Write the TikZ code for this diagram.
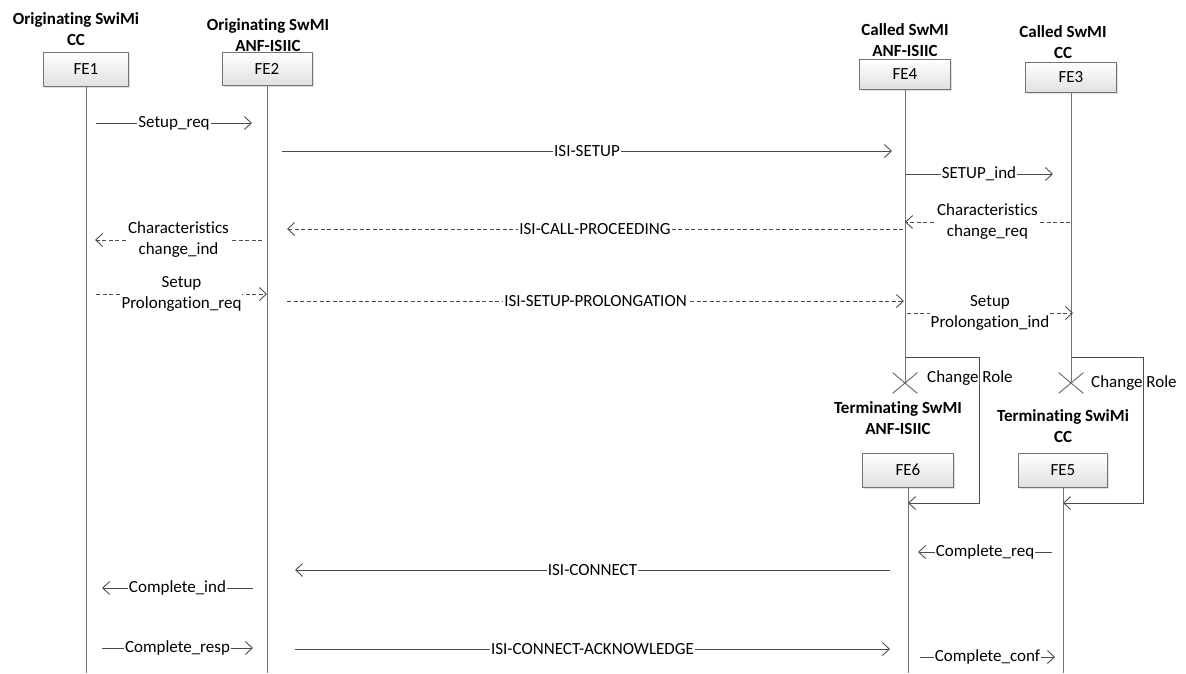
\documentclass[tikz,border=0pt]{standalone}
\usepackage{fontspec}
\setmainfont{Carlito}[Ligatures=NoCommon]
\usetikzlibrary{arrows.meta,shadows,shapes.misc}
\tikzset{
  fe/.style={draw=black!55, top color=white, bottom color=black!12, minimum width=90pt, minimum height=33pt, inner sep=0pt,
    drop shadow={shadow xshift=1.5pt, shadow yshift=-1.5pt, fill=black!20, opacity=0.6}},
  ttl/.style={align=center, font=\fontsize{17}{21}\selectfont\bfseries},
  life/.style={draw=black!55, line width=0.9pt},
  msg/.style={draw=black!70, line width=0.9pt, -{Straight Barb[length=7pt,width=13pt]}},
  dmsg/.style={msg, dash pattern=on 4pt off 2.5pt},
  lbl/.style={fill=white, inner xsep=1pt, inner ysep=0pt, align=center, text=black},
  xmark/.style={draw=black!60, line width=0.9pt, cross out, minimum width=24pt, minimum height=20pt, inner sep=0pt},
  rtext/.style={anchor=west, inner sep=0pt}
}
\newcommand\msgline[6]{%
  \coordinate (#1a) at (#2,#4);
  \coordinate (#1b) at (#3,#4);
  \draw[#5] (#1a) -- node[lbl]{#6} (#1b);}
\begin{document}
\begin{tikzpicture}[x=1pt, y=-1pt, font=\fontsize{17}{21}\selectfont]
\useasboundingbox (0,0) rectangle (1186,673);

% titles
\node[ttl] (t1) at (76,29) {Originating SwiMi\\CC};
\node[ttl] (t2) at (268,35.5) {Originating SwMI\\ANF-ISIIC};
\node[ttl] (t4) at (905,40) {Called SwMI\\ANF-ISIIC};
\node[ttl] (t3) at (1063,42) {Called SwMI\\CC};
\node[ttl] (t6) at (898,418) {Terminating SwMI\\ANF-ISIIC};
\node[ttl] (t5) at (1063,426) {Terminating SwiMi\\CC};

% boxes
\node[fe, minimum width=85pt, minimum height=34pt] (FE1) at (86,69) {FE1};
\node[fe] (FE2) at (267,69) {FE2};
\node[fe, minimum width=91pt, minimum height=30pt] (FE4) at (905,74) {FE4};
\node[fe, minimum width=91pt, minimum height=30pt] (FE3) at (1071,77) {FE3};
\node[fe, minimum width=91pt, minimum height=34pt] (FE6) at (908,470) {FE6};
\node[fe, minimum width=89pt, minimum height=34pt] (FE5) at (1063,470) {FE5};

% end coordinates
\coordinate (e1) at (86,673);
\coordinate (e2) at (267,673);
\coordinate (e6) at (908,673);
\coordinate (e5) at (1063,673);
\node[xmark] (X4) at (905,383) {};
\node[xmark] (X3) at (1071,383) {};

% lifelines
\draw[life] (FE1.south) -- (e1);
\draw[life] (FE2.south) -- (e2);
\draw[life] (FE4.south) -- (X4.center);
\draw[life] (FE3.south) -- (X3.center);
\draw[life] (FE6.south) -- (e6);
\draw[life] (FE5.south) -- (e5);

\node[rtext] (cr4) at (927,378) {Change Role};
\node[rtext] (cr3) at (1091,383) {Change Role};

% change role loops
\coordinate (l4a) at (905,357);
\coordinate (l4b) at (979,357);
\coordinate (l4c) at (979,503);
\coordinate (l4d) at (908,503);
\draw[msg] (l4a) -- (l4b) -- (l4c) -- (l4d);
\coordinate (l3a) at (1071,357);
\coordinate (l3b) at (1143,357);
\coordinate (l3c) at (1143,503);
\coordinate (l3d) at (1063,503);
\draw[msg] (l3a) -- (l3b) -- (l3c) -- (l3d);

% messages
\msgline{m1}{96}{252}{123}{msg}{Setup\_req}
\msgline{m2}{282}{892}{151}{msg}{ISI-SETUP}
\msgline{m3}{905}{1053}{174}{msg}{SETUP\_ind}
\msgline{m4}{1070}{905}{222}{dmsg}{Characteristics\\change\_req}
\msgline{m5}{903}{287}{229}{dmsg}{ISI-CALL-PROCEEDING}
\msgline{m6}{262}{95}{240}{dmsg}{Characteristics\\change\_ind}
\msgline{m7}{96}{267}{294}{dmsg}{Setup\\Prolongation\_req}
\msgline{m8}{287}{904}{301}{dmsg}{ISI-SETUP-PROLONGATION}
\msgline{m9}{907}{1073}{313}{dmsg}{Setup\\Prolongation\_ind}
\msgline{m10}{1052}{918}{552}{msg}{Complete\_req}
\msgline{m11}{890}{295}{570}{msg}{ISI-CONNECT}
\msgline{m12}{253}{102}{588}{msg}{Complete\_ind}
\msgline{m13}{102}{253}{648}{msg}{Complete\_resp}
\msgline{m14}{295}{890}{649}{msg}{ISI-CONNECT-ACKNOWLEDGE}
\msgline{m15}{920}{1055}{657}{msg}{Complete\_conf}
\end{tikzpicture}
\end{document}
